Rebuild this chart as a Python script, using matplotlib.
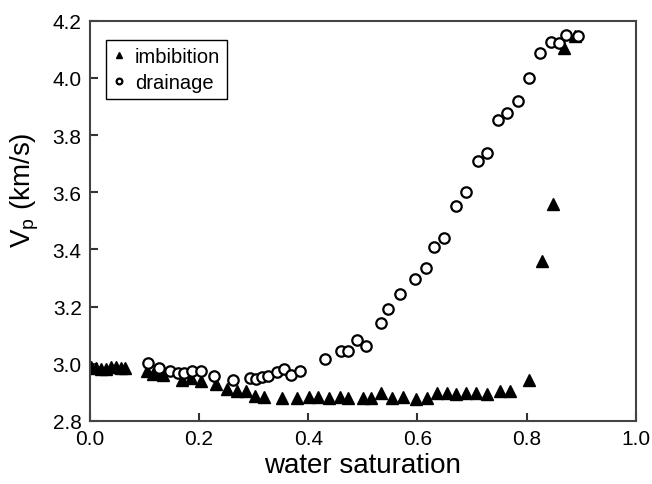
import matplotlib
matplotlib.use("Agg")
import matplotlib.pyplot as plt

plt.rcParams['font.family'] = ['Liberation Sans', 'DejaVu Sans']
plt.rcParams['mathtext.fontset'] = 'custom'
plt.rcParams['mathtext.rm'] = 'Liberation Sans'

# imbibition (triangles)
imb_sw = [0.002, 0.011, 0.020, 0.029, 0.038, 0.047, 0.056, 0.065,
          0.105, 0.115, 0.124, 0.133, 0.169, 0.185, 0.204,
          0.231, 0.251, 0.269, 0.285, 0.302, 0.318, 0.351, 0.380, 0.402,
          0.418, 0.438, 0.458, 0.473, 0.500, 0.515, 0.533, 0.553, 0.573,
          0.598, 0.618, 0.636, 0.655, 0.671, 0.689, 0.707, 0.727, 0.751,
          0.769, 0.804, 0.829, 0.849, 0.869, 0.889]
imb_vp = [2.989, 2.986, 2.982, 2.982, 2.989, 2.989, 2.986, 2.986,
          2.975, 2.965, 2.972, 2.961, 2.944, 2.951, 2.940,
          2.930, 2.912, 2.905, 2.905, 2.887, 2.884, 2.880, 2.880, 2.885,
          2.885, 2.880, 2.885, 2.880, 2.880, 2.880, 2.897, 2.880, 2.885,
          2.878, 2.880, 2.897, 2.897, 2.894, 2.897, 2.897, 2.894, 2.905,
          2.905, 2.945, 3.360, 3.560, 4.106, 4.148]

# drainage (open circles)
dra_sw = [0.107, 0.127, 0.147, 0.162, 0.173, 0.187, 0.204, 0.227, 0.262,
          0.293, 0.304, 0.316, 0.327, 0.342, 0.355, 0.369, 0.385, 0.431,
          0.460, 0.473, 0.489, 0.505, 0.533, 0.547, 0.569, 0.595, 0.615,
          0.631, 0.649, 0.671, 0.689, 0.711, 0.727, 0.747, 0.764, 0.784,
          0.804, 0.825, 0.844, 0.860, 0.873, 0.895]
dra_vp = [3.003, 2.986, 2.975, 2.968, 2.968, 2.975, 2.975, 2.958, 2.944,
          2.951, 2.947, 2.954, 2.958, 2.972, 2.982, 2.961, 2.975, 3.017,
          3.045, 3.045, 3.084, 3.062, 3.143, 3.192, 3.245, 3.297, 3.336,
          3.409, 3.440, 3.553, 3.600, 3.710, 3.738, 3.854, 3.878, 3.920,
          4.000, 4.088, 4.127, 4.123, 4.151, 4.148]

fig = plt.figure(figsize=(6.52, 4.85), dpi=100)
ax = fig.add_axes([0.138, 0.13, 0.837, 0.825])

ax.plot(imb_sw, imb_vp, linestyle='none', marker='^', markersize=8.5,
        color='black', label='imbibition')
ax.plot(dra_sw, dra_vp, linestyle='none', marker='o', markersize=7.5,
        markerfacecolor='white', markeredgecolor='black', markeredgewidth=1.6,
        label='drainage')

ax.set_xlim(0.0, 1.0)
ax.set_ylim(2.8, 4.2)
ax.set_xticks([0.0, 0.2, 0.4, 0.6, 0.8, 1.0])
ax.set_yticks([2.8, 3.0, 3.2, 3.4, 3.6, 3.8, 4.0, 4.2])
ax.set_xticklabels(['0.0', '0.2', '0.4', '0.6', '0.8', '1.0'])
ax.set_yticklabels(['2.8', '3.0', '3.2', '3.4', '3.6', '3.8', '4.0', '4.2'])
ax.tick_params(direction='in', length=6, width=1.5, labelsize=15,
               top=False, right=False, pad=6, color='#333333')
for sp in ax.spines.values():
    sp.set_linewidth(1.5)
    sp.set_color('#444444')

ax.set_xlabel('water saturation', fontsize=20, labelpad=3)
ax.set_ylabel(r'V$_\mathregular{p}$ (km/s)', fontsize=20)
ax.yaxis.set_label_coords(-0.09, 0.58)

leg = ax.legend(loc='upper left', bbox_to_anchor=(0.029, 0.953), fontsize=14.5,
                markerscale=0.55, handlelength=0.6, handletextpad=0.5,
                borderpad=0.35, labelspacing=0.35, fancybox=False,
                edgecolor='black', framealpha=1, borderaxespad=0)
leg.get_frame().set_linewidth(1.0)

fig.savefig('out.png', dpi=100)
